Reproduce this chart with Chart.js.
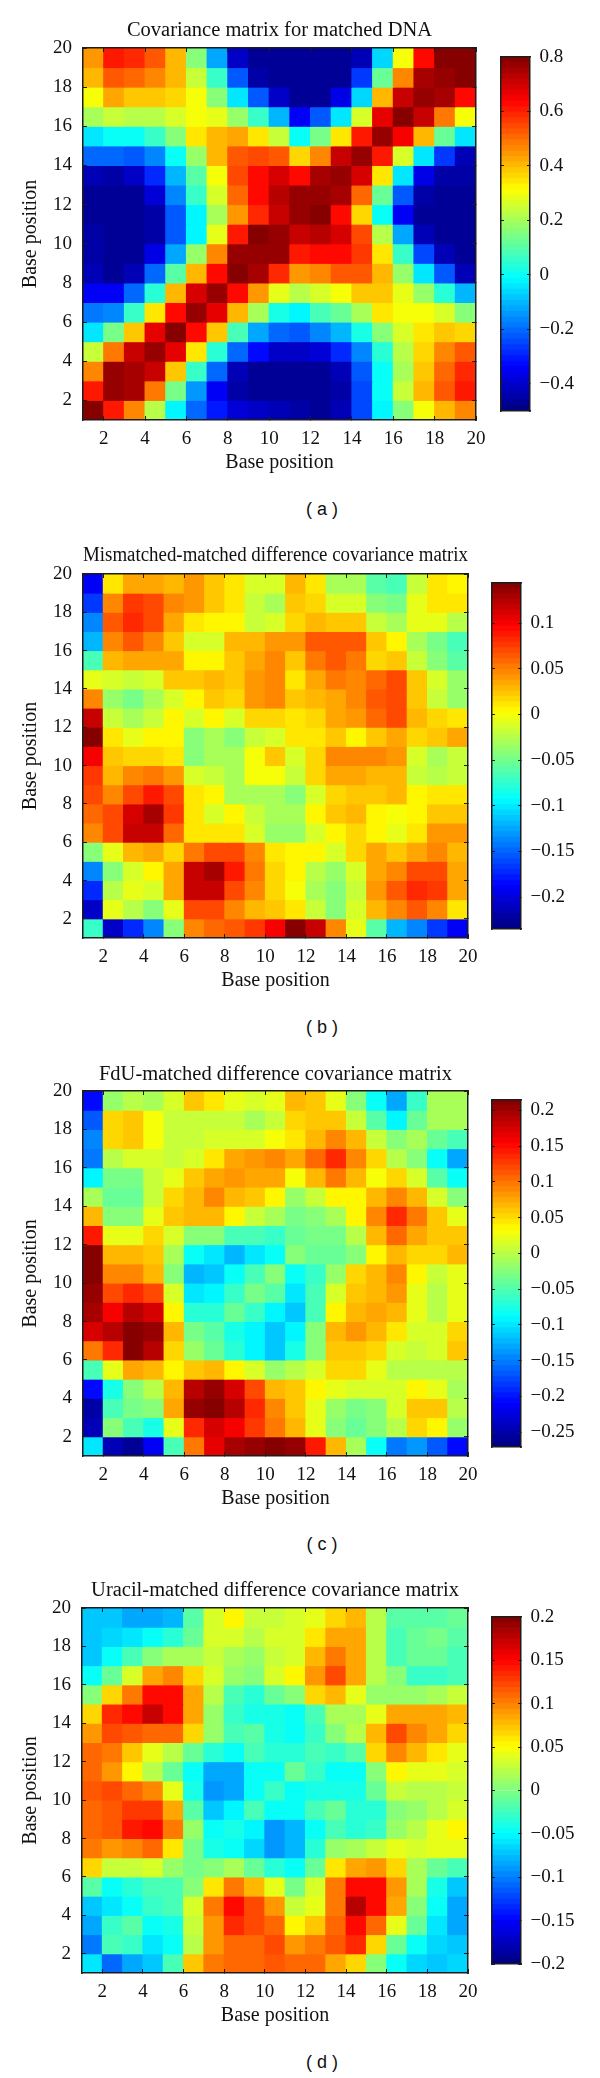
<!DOCTYPE html>
<html>
<head>
<meta charset="utf-8">
<title>Covariance matrices</title>
<script src="https://cdn.jsdelivr.net/npm/chart.js@4"></script>
<style>
  html, body { margin: 0; padding: 0; background: #fff; }
  #page { position: relative; width: 600px; height: 2078px; overflow: hidden; }
  #page canvas { position: absolute; }
  .cap { position: absolute; transform: translate(-50%, -50%); font: 18px "Liberation Sans", sans-serif; color: #111; white-space: pre; }
</style>
</head>
<body>
<div id="page"></div>
<script>
// cell left edges on x, cell lower edges on y (top row first), values are given row by row from the top
const cellLeft = [1,2,3,4,5,6,7,8,9,10,11,12,13,14,15,16,17,18,19];
const cellLow = [19,18,17,16,15,14,13,12,11,10,9,8,7,6,5,4,3,2,1];
const axisTicks = [2,4,6,8,10,12,14,16,18,20];

const titles = ['Covariance matrix for matched DNA', 'Mismatched-matched difference covariance matrix', 'FdU-matched difference covariance matrix', 'Uracil-matched difference covariance matrix'];
const captions = ['( a )', '( b )', '( c )', '( d )'];

const rangeA = [-0.5, 0.8];
const rangeB = [-0.235, 0.144];
const rangeC = [-0.271, 0.2147];
const rangeD = [-0.2, 0.2];

const barTicksA = [0.8, 0.6, 0.4, 0.2, 0, -0.2, -0.4];
const barTicksB = [0.1, 0.05, 0, -0.05, -0.1, -0.15, -0.2];
const barTicksC = [0.2, 0.15, 0.1, 0.05, 0, -0.05, -0.1, -0.15, -0.2, -0.25];
const barTicksD = [0.2, 0.15, 0.1, 0.05, 0, -0.05, -0.1, -0.15, -0.2];

const matrixA = [
[.45,.6,.58,.52,.4,.16,-.12,-.41,-.46,-.46,-.47,-.47,-.47,-.42,-.07,.31,.63,.78,.78],
[.41,.52,.5,.46,.41,.24,.05,-.22,-.44,-.46,-.47,-.47,-.47,-.27,.12,.47,.75,.77,.78],
[.31,.42,.38,.38,.37,.31,.17,-.05,-.23,-.41,-.46,-.46,-.36,-.06,.4,.7,.76,.74,.63],
[.2,.25,.22,.22,.27,.31,.29,.18,.05,-.1,-.34,-.22,-.04,.27,.67,.78,.7,.49,.31],
[-.04,0,-.01,.05,.15,.35,.41,.42,.35,.24,-.01,.14,.35,.6,.77,.65,.41,.12,-.05],
[-.21,-.21,-.23,-.17,0,.18,.41,.52,.54,.52,.36,.47,.7,.77,.6,.27,-.05,-.27,-.43],
[-.43,-.45,-.4,-.29,-.1,.1,.31,.54,.63,.68,.63,.75,.76,.68,.35,-.04,-.36,-.44,-.45],
[-.47,-.47,-.46,-.38,-.17,.05,.26,.5,.63,.72,.77,.77,.75,.5,.12,-.23,-.45,-.47,-.47],
[-.47,-.47,-.46,-.44,-.23,-.03,.2,.45,.59,.71,.77,.78,.63,.36,-.01,-.34,-.46,-.47,-.47],
[-.45,-.47,-.46,-.44,-.23,-.02,.29,.6,.78,.77,.7,.72,.68,.54,.23,-.12,-.43,-.46,-.47],
[-.44,-.47,-.46,-.37,-.13,.18,.46,.76,.77,.77,.6,.63,.63,.56,.35,.05,-.25,-.43,-.46],
[-.42,-.46,-.42,-.21,.1,.41,.62,.78,.75,.59,.44,.47,.53,.52,.41,.18,-.05,-.23,-.42],
[-.35,-.35,-.21,.04,.4,.68,.77,.63,.45,.29,.22,.26,.31,.39,.39,.29,.18,.04,-.1],
[-.19,-.16,.05,.35,.63,.77,.67,.4,.2,.02,-.03,.07,.12,.2,.34,.31,.31,.26,.17],
[-.04,.14,.39,.67,.78,.63,.39,.08,-.13,-.21,-.22,-.17,-.1,.01,.15,.26,.35,.39,.37],
[.24,.49,.7,.77,.67,.34,.04,-.21,-.32,-.4,-.41,-.38,-.29,-.16,.03,.22,.37,.46,.52],
[.47,.76,.74,.7,.39,.05,-.21,-.42,-.46,-.46,-.47,-.46,-.43,-.23,-.01,.2,.38,.5,.58],
[.6,.77,.74,.49,.14,-.15,-.35,-.44,-.46,-.47,-.47,-.47,-.45,-.24,-.01,.24,.41,.52,.6],
[.79,.6,.47,.23,-.02,-.2,-.31,-.39,-.41,-.42,-.45,-.46,-.42,-.25,-.02,.17,.31,.41,.46]
];

const matrixB = [
[-.19,.012,.032,.034,.03,.04,.02,.013,-.015,-.015,.03,.01,-.03,-.03,-.058,-.068,-.02,.01,.005],
[-.165,.048,.075,.07,.048,.042,.02,.013,-.02,-.03,.02,.015,-.015,-.01,-.042,-.05,-.005,.012,.013],
[-.14,.065,.082,.07,.034,.012,.002,.002,-.017,-.01,.015,.028,.022,.022,-.017,-.028,-.008,-.008,-.024],
[-.122,.048,.065,.048,.022,-.012,-.01,.03,.03,.042,.038,.065,.065,.064,.022,.003,-.03,-.05,-.068],
[-.067,.028,.037,.037,.034,.002,.002,.023,.032,.047,.02,.053,.063,.053,.018,.025,-.018,-.043,-.058],
[-.005,-.012,-.018,-.01,.02,.02,.028,.023,.038,.047,.008,.037,.05,.044,.058,.068,.025,-.015,-.035],
[.048,-.038,-.05,-.033,-.015,.002,.02,.018,.038,.047,.02,.03,.037,.048,.065,.068,.025,-.017,-.035],
[.12,-.018,-.033,-.018,.003,-.012,.003,-.012,.018,.018,.01,.015,.034,.038,.056,.068,.03,.018,.008],
[.143,.01,-.005,.002,.002,-.04,-.03,-.045,-.02,-.012,.008,.008,.02,.006,.02,.037,.015,.022,.032],
[.1,.02,.015,.018,.008,-.04,-.03,-.03,-.003,.022,-.012,.015,.045,.045,.045,.043,-.012,-.03,-.017],
[.077,.028,.044,.053,.043,-.012,-.018,-.03,-.003,-.003,-.018,.018,.036,.036,.03,.028,-.018,-.024,-.017],
[.068,.044,.072,.09,.07,.01,.002,-.028,-.03,-.03,-.043,-.012,.018,.022,.022,.03,.002,.008,.008],
[.06,.072,.113,.13,.075,.013,-.015,.002,-.017,-.033,-.033,.002,.022,.028,.003,-.003,.002,.02,.02],
[.044,.072,.12,.118,.06,.008,.008,.008,-.01,-.035,-.035,-.012,.003,.018,.002,-.006,.01,.04,.04],
[-.043,-.006,.03,.034,.018,.05,.072,.068,.046,.012,.002,.002,-.012,.018,.032,.022,.034,.048,.03],
[-.14,-.045,-.015,.002,.032,.12,.132,.087,.053,.015,.003,-.024,-.035,-.015,.036,.046,.07,.072,.036],
[-.175,-.024,-.005,-.015,.032,.12,.115,.07,.044,.015,-.003,-.03,-.045,-.018,.038,.063,.082,.075,.036],
[-.21,-.006,-.024,-.043,-.008,.07,.072,.044,.028,.02,.008,-.018,-.04,-.012,.03,.046,.065,.046,.008],
[-.072,-.21,-.175,-.14,-.045,.044,.058,.065,.076,.102,.143,.12,.048,-.006,-.063,-.12,-.14,-.168,-.192]
];

const matrixC = [
[-.21,-.015,-.003,-.011,.01,.056,.045,.022,.016,.022,.07,.058,.022,-.026,-.088,-.13,-.066,-.008,-.006],
[-.168,.048,.06,.026,.004,.007,.004,.004,-.006,.007,.052,.058,.058,.007,-.047,-.093,-.04,-.008,-.011],
[-.145,.052,.06,.032,.007,.004,.013,.016,.017,.032,.045,.07,.092,.068,.007,-.028,-.011,-.04,-.058],
[-.15,.002,.01,.01,.004,.01,.045,.074,.08,.09,.072,.108,.135,.092,.05,.001,-.028,-.088,-.127],
[-.09,-.03,-.03,.004,.022,.058,.074,.08,.074,.072,.032,.068,.095,.066,.032,.048,.01,-.047,-.088],
[-.008,-.043,-.038,.004,.048,.065,.086,.07,.056,.04,-.015,.004,.033,.04,.068,.092,.068,.01,-.023],
[.07,-.023,-.023,.02,.06,.065,.068,.033,.007,-.011,-.035,-.026,-.008,.033,.09,.137,.095,.062,.022],
[.14,.02,.02,.048,.01,-.023,-.028,-.057,-.052,-.06,-.038,-.035,-.03,.002,.07,.104,.074,.058,.058],
[.21,.07,.066,.062,-.008,-.087,-.1,-.122,-.1,-.088,-.023,-.038,-.038,-.023,.033,.07,.05,.052,.07],
[.21,.092,.086,.07,-.023,-.12,-.115,-.085,-.052,-.023,-.088,-.066,-.018,.05,.07,.09,.033,.007,.022],
[.205,.122,.132,.12,.01,-.103,-.095,-.066,-.03,-.05,-.102,-.058,.01,.058,.07,.08,.02,-.005,.02],
[.195,.155,.185,.172,.033,-.072,-.072,-.038,-.065,-.09,-.115,-.057,.033,.07,.077,.07,.02,-.005,.02],
[.172,.185,.214,.205,.066,-.03,-.047,-.078,-.095,-.112,-.095,-.028,.068,.082,.068,.045,.017,.013,.048],
[.098,.135,.21,.185,.052,-.015,-.038,-.072,-.095,-.112,-.08,-.023,.058,.062,.05,.01,.005,.01,.056],
[-.055,.02,.077,.07,.033,.056,.066,.033,.01,-.015,-.003,.013,.052,.048,.024,-.003,-.003,-.003,.002],
[-.21,-.08,-.023,.002,.07,.19,.205,.172,.122,.07,.062,.04,.024,.01,.01,.013,.033,.024,-.011],
[-.25,-.057,-.035,-.023,.077,.205,.214,.187,.135,.086,.062,.022,-.018,-.035,-.023,.013,.056,.056,-.003],
[-.243,-.023,-.058,-.08,.02,.135,.175,.155,.125,.098,.068,.022,-.023,-.038,-.026,-.003,.05,.04,-.018],
[-.1,-.243,-.26,-.215,-.055,.098,.165,.195,.205,.21,.205,.14,.068,-.011,-.088,-.15,-.14,-.17,-.21]
];

const matrixD = [
[-.075,-.075,-.085,-.085,-.078,-.015,.032,.05,.03,.028,.035,.04,.065,.078,.022,-.015,-.015,-.015,-.01],
[-.075,-.068,-.06,-.05,-.035,-.008,.035,.035,.02,.032,.035,.062,.082,.082,.022,-.025,-.01,-.005,-.015],
[-.07,-.045,-.02,.005,.018,.018,.03,.018,.008,.03,.035,.078,.1,.082,.022,-.025,-.008,-.008,-.02],
[-.05,-.012,.035,.082,.095,.068,.035,.012,.002,.032,.05,.092,.12,.082,.022,0,-.03,-.03,-.025],
[0,.068,.105,.147,.147,.085,.022,-.025,-.032,-.012,.005,.065,.08,.04,.012,.012,.012,.018,.025],
[.065,.133,.15,.172,.15,.082,.012,-.03,-.038,-.04,-.05,-.02,.015,.015,.038,.082,.084,.084,.08],
[.088,.12,.118,.11,.11,.065,.012,-.025,-.015,-.04,-.05,-.03,.005,.022,.08,.12,.098,.082,.068],
[.11,.1,.072,.042,.02,-.01,-.032,-.045,-.022,-.035,-.032,-.025,-.03,-.015,.065,.095,.08,.062,.042],
[.112,.088,.056,.022,-.012,-.05,-.082,-.082,-.05,-.05,-.008,-.03,-.05,-.05,.002,.05,.042,.038,.035],
[.118,.123,.112,.095,.042,-.038,-.092,-.085,-.048,-.03,-.045,-.042,-.042,-.038,-.012,.03,.022,.022,.03],
[.108,.118,.128,.128,.085,-.015,-.07,-.055,-.025,-.048,-.048,-.025,-.012,-.035,-.032,.002,.012,.022,.032],
[.108,.118,.14,.15,.102,.012,-.045,-.04,-.055,-.088,-.078,-.05,-.02,-.032,-.03,.012,.022,.04,.05],
[.105,.088,.095,.11,.062,-.005,-.04,-.05,-.068,-.09,-.078,-.035,.012,.015,.028,.038,.035,.038,.038],
[.068,.025,.028,.035,.008,-.005,.005,.015,-.012,-.035,-.05,-.01,.062,.082,.088,.068,.018,-.008,-.02],
[-.015,-.048,-.035,-.025,-.02,.005,.062,.1,.08,.042,-.005,.032,.1,.15,.15,.092,.015,-.04,-.07],
[-.072,-.058,-.045,-.03,-.025,.032,.102,.15,.122,.092,.025,.042,.103,.175,.15,.082,.005,-.05,-.082],
[-.082,-.03,-.018,-.048,-.04,.03,.092,.135,.122,.11,.056,.07,.11,.15,.11,.038,-.012,-.06,-.085],
[-.103,-.02,-.028,-.058,-.045,.022,.088,.11,.11,.122,.088,.1,.118,.132,.065,-.012,-.048,-.065,-.07],
[-.058,-.108,-.082,-.072,-.02,.072,.105,.108,.108,.118,.112,.108,.085,.065,.005,-.05,-.068,-.072,-.068]
];

// where each panel sits on the page
const panels = [
  {matrix: matrixA, range: rangeA, barTicks: barTicksA, left: 83, right: 479, top: 48, bottom: 420, barLeft: 501, barRight: 530, gap: 4.7, capX: 322, capY: 509},
  {matrix: matrixB, range: rangeB, barTicks: barTicksB, left: 83, right: 471, top: 574, bottom: 938, barLeft: 492, barRight: 521, gap: 5.7, capX: 322, capY: 1027},
  {matrix: matrixC, range: rangeC, barTicks: barTicksC, left: 83, right: 471, top: 1091, bottom: 1456, barLeft: 492, barRight: 521, gap: 4, capX: 322, capY: 1544},
  {matrix: matrixD, range: rangeD, barTicks: barTicksD, left: 82, right: 471, top: 1608, bottom: 1973, barLeft: 492, barRight: 521, gap: 5, capX: 322, capY: 2062}
];

const page = document.querySelector('#page');
const serif = '"Liberation Serif", serif';
const ink = '#1c1c1c';

Chart.defaults.animation = false;
Chart.defaults.responsive = false;
Chart.defaults.devicePixelRatio = 1;

// matlab jet with 64 steps
function jet(value, range) {
  const t = (value - range[0]) / (range[1] - range[0]);
  const idx = Math.min(63, Math.max(0, Math.floor(t * 64)));
  const c = (idx + 0.5) / 64;
  const ch = v => Math.round(255 * Math.min(1, Math.max(0, v)));
  return `rgb(${ch(Math.min(4*c-1.5, 4.5-4*c))},${ch(Math.min(4*c-0.5, 3.5-4*c))},${ch(Math.min(4*c+0.5, 2.5-4*c))})`;
}

function addCanvas(x, y, w, h) {
  const c = document.createElement('canvas');
  c.width = w;
  c.height = h;
  c.style.left = x + 'px';
  c.style.top = y + 'px';
  c.style.width = w + 'px';
  c.style.height = h + 'px';
  page.appendChild(c);
  return c;
}

function frameAxis(position, tickLen, extra) {
  return Object.assign({
    position: position,
    offset: false,
    border: {color: ink, width: 1.5, z: 1},
    grid: {offset: false, drawOnChartArea: false, drawTicks: true, tickLength: -tickLen, tickColor: ink, tickWidth: 1, z: 1}
  }, extra);
}

function drawHeatmap(p, title) {
  const head = 40, foot = 55;
  const fontTitle = {family: serif, size: 20.5};
  const tickFont = {family: serif, size: 19};
  const setTicks = s => { s.ticks = axisTicks.map(v => ({value: v})); };
  const posAxis = (position, extra) => frameAxis(position, 4, Object.assign({type: 'linear', min: 1, max: 20, afterBuildTicks: setTicks}, extra));
  const hidden = {display: false};

  const canvas = addCanvas(0, p.top - head, p.right + 18, head + (p.bottom - p.top) + foot);
  new Chart(canvas, {
    type: 'bar',
    data: {
      datasets: cellLow.map((low, r) => ({
        data: cellLeft.map(x => ({x: x + 0.5, y: [low, low + 1]})),
        backgroundColor: p.matrix[r].map(v => jet(v, p.range)),
        inflateAmount: 0.5,
        grouped: false,
        barPercentage: 1,
        categoryPercentage: 1
      }))
    },
    options: {
      layout: {padding: {right: 18}},
      plugins: {
        legend: {display: false},
        tooltip: {enabled: false},
        title: {
          display: true, text: title, fullSize: false, color: '#111', font: Object.assign({weight: 'normal'}, fontTitle),
          padding: {top: head - 24.6 - p.gap, bottom: p.gap}
        }
      },
      scales: {
        x: posAxis('bottom', {
          ticks: {font: tickFont, color: '#111', padding: 11.5, autoSkip: false, maxRotation: 0},
          title: {display: true, text: 'Base position', color: '#111', font: {family: serif, size: 20}, padding: 0},
          afterFit: s => { s.height = foot; }
        }),
        y: posAxis('left', {
          ticks: {font: tickFont, color: '#111', padding: 15, autoSkip: false},
          title: {display: true, text: 'Base position', color: '#111', font: {family: serif, size: 20}, padding: {top: 19, bottom: 0}},
          afterFit: s => { s.width = p.left; }
        }),
        xTop: posAxis('top', {ticks: hidden, afterFit: s => { s.height = 0; }}),
        yRight: posAxis('right', {ticks: hidden, afterFit: s => { s.width = 0; }})
      }
    }
  });
}

function drawColorbar(p) {
  const pad = 15;
  const [lo, hi] = p.range;
  const levels = [];
  for (let i = 0; i < 64; i++) {
    levels.push([lo + (hi - lo) * i / 64, lo + (hi - lo) * (i + 1) / 64]);
  }
  const setTicks = s => { s.ticks = p.barTicks.map(v => ({value: v})); };
  const label = v => (v < 0 ? '\u2212' : '') + Math.abs(v);
  const edge = (position) => ({
    type: 'category', position: position,
    border: {color: ink, width: 1.5, z: 1},
    grid: {display: false},
    ticks: {display: false},
    afterFit: s => { s.height = 0; }
  });

  const canvas = addCanvas(p.barLeft - 2, p.top - pad, 600 - p.barLeft + 2, p.bottom - p.top + 2 * pad);
  new Chart(canvas, {
    type: 'bar',
    data: {
      labels: [''],
      datasets: levels.map(l => ({
        data: [l],
        backgroundColor: jet((l[0] + l[1]) / 2, p.range),
        inflateAmount: 0.5,
        grouped: false,
        barPercentage: 1,
        categoryPercentage: 1
      }))
    },
    options: {
      layout: {padding: {top: pad, bottom: pad, left: 2}},
      plugins: {legend: {display: false}, tooltip: {enabled: false}},
      scales: {
        x: edge('bottom'),
        xTop: edge('top'),
        y: frameAxis('right', 3, {
          type: 'linear', min: lo, max: hi, afterBuildTicks: setTicks,
          ticks: {font: {family: serif, size: 19}, color: '#111', padding: 12.5, autoSkip: false, callback: label},
          afterFit: s => { s.width = 600 - p.barRight; }
        }),
        yLeft: frameAxis('left', 3, {
          type: 'linear', min: lo, max: hi, afterBuildTicks: setTicks,
          ticks: {display: false},
          afterFit: s => { s.width = 0; }
        })
      }
    }
  });
}

panels.forEach((p, i) => {
  drawHeatmap(p, titles[i]);
  drawColorbar(p);
  const cap = document.createElement('div');
  cap.className = 'cap';
  cap.textContent = captions[i];
  cap.style.left = p.capX + 'px';
  cap.style.top = p.capY + 'px';
  page.appendChild(cap);
});
</script>
</body>
</html>
